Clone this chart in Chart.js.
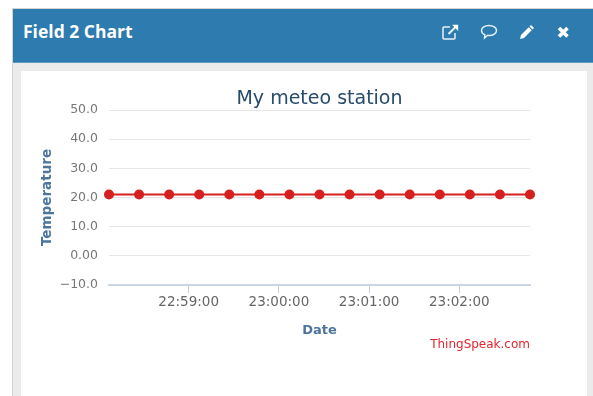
<!DOCTYPE html>
<html><head><meta charset="utf-8">
<script src="https://cdn.jsdelivr.net/npm/chart.js@4"></script>
<style>
html,body{margin:0;padding:0;background:#fff;overflow:hidden}
#wrap{position:relative;width:593px;height:396px;overflow:hidden}
#panel{position:absolute;left:12px;top:8px;width:600px;height:400px;background:#ebebeb;border:1px solid #d4d4d4;box-sizing:border-box}
#head{position:absolute;left:13px;top:9px;width:600px;height:54px;background:#2d7baf;border-bottom:1px solid #5c9ac4;box-sizing:border-box}
#htitle{position:absolute;left:23px;top:20px;font:bold 17.5px/22px "Open Sans",Lato,sans-serif;color:#fff;white-space:nowrap}
#card{position:absolute;left:21px;top:71px;width:566px;height:340px;background:#fff}
canvas{position:absolute;left:0;top:0}
#credit{position:absolute;right:63px;top:336px;font:12px/16px "DejaVu Sans",sans-serif;color:#e0262e;white-space:nowrap}
svg{position:absolute;top:23px}
</style></head>
<body><div id="wrap">
<div id="panel"></div><div id="head"></div>
<div id="htitle">Field 2 Chart</div>
<svg style="left:442px" width="18" height="18" viewBox="0 0 18 18" fill="none" stroke="#e9f2f8" stroke-width="1.5"><path d="M8 4H2a1 1 0 0 0-1 1V15a1 1 0 0 0 1 1H12a1 1 0 0 0 1-1V10"/><path d="M6.500 11 14 3.500" stroke-width="2"/><path d="M10 1.800h6.200V8z" fill="#fff" stroke="none"/></svg>
<svg style="left:480px" width="18" height="18" viewBox="0 0 18 18" fill="none" stroke="#e9f2f8" stroke-width="1.4"><path d="M9 2.500c4.200 0 7.500 2.200 7.500 5s-3.300 5-7.500 5c-.6 0-1.100 0-1.700-.1L4.500 15l.3-3.300C2.800 10.800 1.500 9.300 1.500 7.500c0-2.800 3.300-5 7.500-5z"/></svg>
<svg style="left:518px" width="18" height="18" viewBox="0 0 18 18" fill="#fff"><path d="M13 2l3 3-1.500 1.500-3-3zM10.700 4.300l3 3-7.700 7.700-4 1 1-4z"/></svg>
<svg style="left:554px" width="18" height="18" viewBox="0 0 18 18" fill="none" stroke="#fff" stroke-width="3.600"><path d="M5 5l8.500 8.500M13.500 5 5 13.500"/></svg>
<div id="card"></div>
<canvas id="c" width="593" height="396"></canvas>
<div id="credit">ThingSpeak.com</div>
</div>
<script>
const timeLabels = ["22:58:07","22:58:27","22:58:47","22:59:07","22:59:27","22:59:47","23:00:07","23:00:27","23:00:47","23:01:07","23:01:27","23:01:47","23:02:07","23:02:27","23:02:47"];
const temperature = [21,21,21,21,21,21,21,21,21,21,21,21,21,21,21];
const xTickLabels = ["22:59:00","23:00:00","23:01:00","23:02:00"];
const yTickValues = [-10,0,10,20,30,40,50];
const yTickLabels = ["\u221210.0","0.00","10.0","20.0","30.0","40.0","50.0"];
const chartTitle = "My meteo station";
const seriesName = "Field 2";
const xAxisTitle = "Date";
const yAxisTitle = "Temperature";

const toSec = s => { const [h,m,d] = s.split(":").map(Number); return h*3600+m*60+d; };
const FONT = '"DejaVu Sans", sans-serif';
const points = timeLabels.map((t,i)=>({x:toSec(t), y:temperature[i]}));

new Chart(document.getElementById("c"), {
  type:"line",
  data:{datasets:[{label:seriesName,data:points,borderColor:"#d62020",backgroundColor:"#d62020",
    borderWidth:2,pointRadius:5,pointHoverRadius:5,pointBackgroundColor:"#d62020",pointBorderWidth:0,clip:false,tension:0}]},
  options:{
    responsive:false,animation:false,
    layout:{padding:{left:39,right:63,top:0,bottom:58}},
    plugins:{
      legend:{display:false},tooltip:{enabled:false},
      title:{display:true,text:chartTitle,fullSize:false,color:"#274b6d",
        font:{family:FONT,size:19,weight:"normal",lineHeight:1.2},padding:{top:88,bottom:-0.8}}
    },
    scales:{
      x:{type:"linear",min:points[0].x,max:points[points.length-1].x,
        afterBuildTicks:s=>{s.ticks=xTickLabels.map(l=>({value:toSec(l),label:l}));},
        afterFit:s=>{s.height=53;},
        ticks:{autoSkip:false,maxRotation:0,color:"#666",font:{family:FONT,size:13.5},padding:1,
          callback:v=>xTickLabels.find(l=>toSec(l)===v)||""},
        grid:{drawOnChartArea:false,drawTicks:true,tickLength:8,tickColor:"#c0d0e0",tickWidth:1},
        border:{display:true,color:"#c9d6e4",width:2},
        title:{display:true,text:xAxisTitle,color:"#4d759e",font:{family:FONT,size:13,weight:"bold"},padding:{top:7,bottom:0}}
      },
      y:{min:-10,max:50,
        afterBuildTicks:s=>{s.ticks=yTickValues.map(v=>({value:v}));},
        afterFit:s=>{s.width=70;},
        ticks:{color:"#777",font:{family:FONT,size:12.5},padding:11,
          callback:v=>yTickLabels[yTickValues.indexOf(v)]},
        grid:{color:"#e6e6e6",lineWidth:1,drawTicks:false},
        border:{display:false},
        title:{display:true,text:yAxisTitle,color:"#4d759e",font:{family:FONT,size:13.5,weight:"bold"},padding:{top:0,bottom:0}}
      }
    }
  }
});
</script>
</body></html>
